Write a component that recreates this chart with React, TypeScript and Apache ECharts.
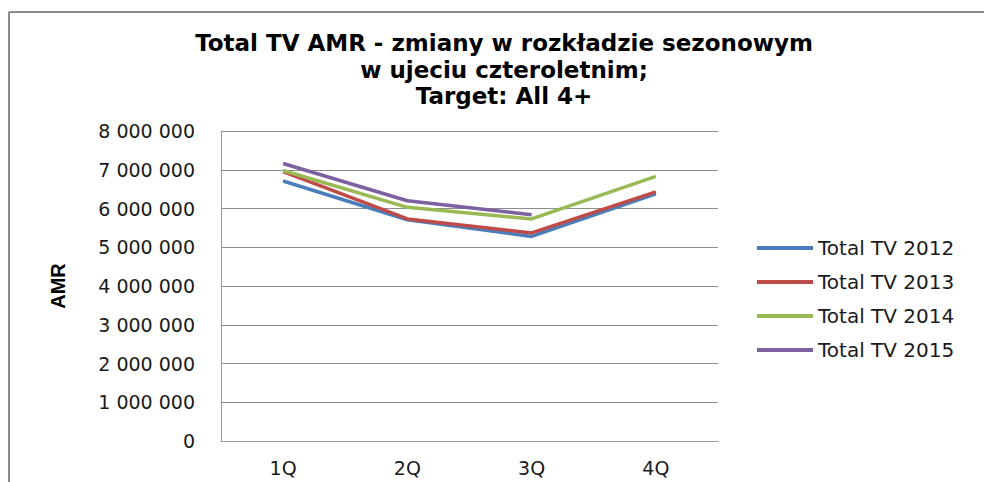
import React, { useEffect, useRef } from "react";
import * as echarts from "echarts";

const categories = ["1Q", "2Q", "3Q", "4Q"];
const seriesNames = ["Total TV 2012", "Total TV 2013", "Total TV 2014", "Total TV 2015"];
const tv2012 = [6710000, 5710000, 5280000, 6380000];
const tv2013 = [6950000, 5730000, 5370000, 6430000];
const tv2014 = [6980000, 6030000, 5730000, 6830000];
const tv2015 = [7160000, 6200000, 5840000, null];
const seriesColors = ["#4A7EBB", "#BE4B48", "#98B954", "#7D60A0"];
const titleLines = [
  "Total TV AMR - zmiany w rozkładzie sezonowym",
  "w ujeciu czteroletnim;",
  "Target: All 4+",
];
const yAxisName = "AMR";

const fmt = (v: number) => String(Math.round(v)).replace(/\B(?=(\d{3})+(?!\d))/g, " ");

export default function App() {
  const ref = useRef<HTMLDivElement>(null);
  useEffect(() => {
    if (!ref.current) return;
    const chart = echarts.init(ref.current, null, { renderer: "svg" });
    const allData = [tv2012, tv2013, tv2014, tv2015];
    chart.setOption({
      animation: false,
      backgroundColor: "#ffffff",
      title: {
        text: titleLines.join("\n"),
        left: 504,
        textAlign: "center",
        top: 30,
        padding: 0,
        textStyle: {
          fontFamily: "DejaVu Sans",
          fontWeight: "bold",
          fontSize: 23,
          lineHeight: 26.5,
          color: "#000000",
        },
      },
      graphic: [
        {
          type: "line",
          shape: { x1: 9, y1: 12, x2: 984, y2: 12 },
          style: { stroke: "#8c8c8c", lineWidth: 2 },
        },
        {
          type: "line",
          shape: { x1: 9, y1: 12, x2: 9, y2: 482 },
          style: { stroke: "#8c8c8c", lineWidth: 2 },
        },
      ],
      legend: {
        orient: "vertical",
        left: 757,
        top: 238,
        padding: 0,
        icon: "rect",
        itemWidth: 56,
        itemHeight: 4,
        itemGap: 14,
        data: seriesNames,
        textStyle: {
          fontFamily: "DejaVu Sans",
          fontSize: 20,
          lineHeight: 20,
          color: "#1a1a1a",
        },
      },
      grid: { left: 221, right: 266, top: 131, bottom: 41, containLabel: false },
      xAxis: {
        type: "category",
        data: categories,
        boundaryGap: true,
        axisLine: { show: true, lineStyle: { color: "#9a9a9a", width: 1 } },
        axisTick: { show: false },
        axisLabel: {
          margin: 17,
          fontFamily: "DejaVu Sans",
          fontSize: 19,
          color: "#1a1a1a",
        },
      },
      yAxis: {
        type: "value",
        min: 0,
        max: 8000000,
        interval: 1000000,
        name: yAxisName,
        nameLocation: "middle",
        nameRotate: 90,
        nameGap: 153,
        nameTextStyle: {
          fontFamily: "Liberation Sans",
          fontWeight: "bold",
          fontSize: 20,
          color: "#000000",
        },
        axisLine: { show: true, lineStyle: { color: "#9a9a9a", width: 1 } },
        axisTick: { show: false },
        splitLine: { show: true, lineStyle: { color: "#8c8c8c", width: 1 } },
        axisLabel: {
          margin: 26,
          fontFamily: "DejaVu Sans",
          fontSize: 19,
          color: "#1a1a1a",
          formatter: (v: number) => fmt(v),
        },
      },
      series: seriesNames.map((name, i) => ({
        name,
        type: "line",
        data: allData[i],
        symbol: "none",
        showSymbol: false,
        color: seriesColors[i],
        itemStyle: { color: seriesColors[i] },
        lineStyle: { color: seriesColors[i], width: 3.5 },
        connectNulls: false,
      })),
    });
    return () => chart.dispose();
  }, []);
  return <div ref={ref} style={{ width: 984, height: 482, position: "absolute", left: 0, top: 0 }} />;
}
